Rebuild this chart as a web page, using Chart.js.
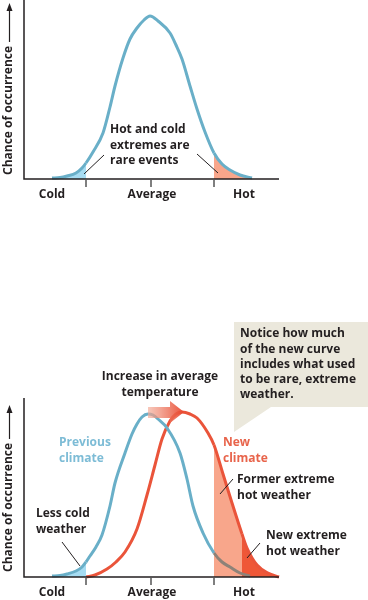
<!DOCTYPE html>
<html><head><meta charset="utf-8">
<script src="https://cdn.jsdelivr.net/npm/chart.js@4.4.0/dist/chart.umd.min.js"></script>
<style>
html,body{margin:0;padding:0;background:#fff;}
#wrap{position:relative;width:368px;height:600px;overflow:hidden;background:#fff;}
canvas{position:absolute;left:0;}
#c1{top:0;}
#c2{top:300px;}
</style></head><body>
<div id="wrap"><canvas id="c1" width="368" height="215"></canvas><canvas id="c2" width="368" height="300"></canvas></div>
<script>
// ---- data (temperature index on x, chance of occurrence on y) ----
const tickMarks = [62, 127, 190];          // Cold / Average / Hot boundaries
const tickLabels = ['Cold', 'Average', 'Hot'];
const tickLabelAt = [28, 128, 220];

const climateX = [28, 36, 43, 52, 58, 62, 69, 79, 86, 91, 99, 106, 113, 120, 126, 134, 146, 152, 158, 166, 173, 181, 190, 198, 206, 216, 228];
const climateY = [1, 1.5, 3, 6, 11, 16, 27, 46, 72, 93, 121, 140, 151, 159, 163, 158, 146, 134, 120, 93, 70, 47, 26, 15, 9, 4, 1];

const previousX = [28, 36, 43, 52, 58, 62, 66, 72, 78, 86, 91, 101, 108, 113, 118, 124, 129, 134, 143, 156, 163, 169, 179, 190, 198, 206, 216, 226];
const previousY = [1, 1.5, 3, 6, 10, 15, 21, 30, 42, 71, 94, 124, 143, 153, 160, 163, 162, 158, 149, 124, 98, 71, 44, 24, 15, 10, 4, 1];

const newX = [62, 71, 83, 92, 101, 113, 123, 131, 138, 146, 152, 158, 166, 173, 184, 190, 199, 208, 218, 223, 233, 244, 255];
const newY = [0, 2, 8, 15, 25, 48, 82, 112, 138, 156, 163, 165, 163, 159, 144, 132, 103, 74, 43, 29, 12, 4, 0];

const coldLimit = 62, hotLimit = 190, newExtremeLimit = 218;

// ---- styles ----
const FONT = 'bold 12px "Open Sans", sans-serif';
const TITLE_FONT = 'bold 12px "Open Sans", sans-serif';
const INK = '#231f20';
const BLUE = '#69afc8', LIGHTBLUE = '#a6dcf2', SALMON = '#f8a68b', RED = '#ea543a', DARKRED = '#ef5737', GREYLINE = '#8e8278';
const CLEAR = 'rgba(0,0,0,0)';

function pts(xs, ys) { return xs.map((x, i) => ({x, y: ys[i]})); }

function lines(ctx, arr, x, y, lh, color, align) {
  ctx.font = FONT; ctx.fillStyle = color || INK; ctx.textAlign = align || 'left'; ctx.textBaseline = 'middle';
  arr.forEach((t, i) => ctx.fillText(t, x, y + i * lh));
}
function seg(ctx, x1, y1, x2, y2) {
  ctx.strokeStyle = INK; ctx.lineWidth = 1; ctx.beginPath(); ctx.moveTo(x1, y1); ctx.lineTo(x2, y2); ctx.stroke();
}
function drawFrame(chart, yArrowTop, yTextStart) {
  const ctx = chart.ctx, a = chart.chartArea, xs = chart.scales.x;
  ctx.save();
  ctx.strokeStyle = INK; ctx.lineWidth = 1.5;
  ctx.beginPath(); ctx.moveTo(a.left, a.top - 2); ctx.lineTo(a.left, a.bottom); ctx.lineTo(a.right, a.bottom); ctx.stroke();
  ctx.strokeStyle = '#555'; ctx.lineWidth = 1.5;
  tickMarks.forEach(v => { const p = Math.round(xs.getPixelForValue(v)); ctx.beginPath(); ctx.moveTo(p, a.bottom); ctx.lineTo(p, a.bottom + 8); ctx.stroke(); });
  ctx.font = FONT; ctx.fillStyle = INK; ctx.textAlign = 'center'; ctx.textBaseline = 'middle';
  tickLabels.forEach((t, i) => ctx.fillText(t, xs.getPixelForValue(tickLabelAt[i]), a.bottom + 16));
  // y axis title with arrow
  ctx.save();
  ctx.font = TITLE_FONT;
  ctx.translate(9, yTextStart); ctx.rotate(-Math.PI / 2);
  ctx.textAlign = 'left'; ctx.textBaseline = 'middle';
  const w = ctx.measureText('Chance of occurrence').width;
  ctx.fillText('Chance of occurrence', 0, 0);
  ctx.restore();
  const lineStart = yTextStart - w - 4;
  ctx.strokeStyle = INK; ctx.lineWidth = 1.2;
  ctx.beginPath(); ctx.moveTo(9.5, lineStart); ctx.lineTo(9.5, yArrowTop + 6); ctx.stroke();
  ctx.fillStyle = INK; ctx.beginPath(); ctx.moveTo(9.5, yArrowTop); ctx.lineTo(6.5, yArrowTop + 8); ctx.lineTo(12.5, yArrowTop + 8); ctx.closePath(); ctx.fill();
  ctx.restore();
}

const baseOptions = (pad) => ({
  responsive: false, animation: false, devicePixelRatio: 1,
  layout: {padding: pad},
  scales: {
    x: {type: 'linear', min: 0, max: 255, display: false},
    y: {type: 'linear', min: 0, max: 177, display: false}
  },
  plugins: {legend: {display: false}, tooltip: {enabled: false}},
  elements: {point: {radius: 0}, line: {cubicInterpolationMode: 'monotone'}}
});

// ---- top chart ----
new Chart(document.getElementById('c1'), {
  type: 'line',
  data: {datasets: [{
    label: 'Climate',
    data: pts(climateX, climateY),
    borderColor: BLUE, borderWidth: 3, fill: 'origin', backgroundColor: CLEAR, clip: false,
    segment: {backgroundColor: c => c.p1.parsed.x <= coldLimit ? LIGHTBLUE : (c.p0.parsed.x >= hotLimit ? SALMON : CLEAR)}
  }]},
  options: baseOptions({left: 24, right: 89, top: 2, bottom: 36}),
  plugins: [{id: 'topDeco', afterDraw(chart) {
    const ctx = chart.ctx;
    drawFrame(chart, 3, 175);
    ctx.save();
    lines(ctx, ['Hot and cold', 'extremes are', 'rare events'], 110, 130, 15.5);
    seg(ctx, 84, 174, 104, 155);
    seg(ctx, 197, 154, 218, 173);
    ctx.restore();
  }}]
});

// ---- bottom chart ----
new Chart(document.getElementById('c2'), {
  type: 'line',
  data: {datasets: [
    {
      label: 'Previous climate',
      data: pts(previousX, previousY),
      borderColor: BLUE, borderWidth: 3, fill: 'origin', backgroundColor: CLEAR, clip: false,
      segment: {
        backgroundColor: c => c.p1.parsed.x <= coldLimit ? LIGHTBLUE : CLEAR,
        borderColor: c => c.p0.parsed.x >= hotLimit ? GREYLINE : BLUE
      }
    },
    {
      label: 'New climate',
      data: pts(newX, newY),
      borderColor: RED, borderWidth: 3, fill: 'origin', backgroundColor: CLEAR, clip: false,
      segment: {backgroundColor: c => c.p0.parsed.x >= newExtremeLimit ? DARKRED : (c.p0.parsed.x >= hotLimit ? SALMON : CLEAR)}
    }
  ]},
  options: baseOptions({left: 24, right: 89, top: 100, bottom: 23}),
  plugins: [{id: 'botDeco', afterDraw(chart) {
    const ctx = chart.ctx;
    drawFrame(chart, 105, 272);
    ctx.save();
    ctx.translate(0, -300);
    // callout
    ctx.fillStyle = '#ebe8dc';
    ctx.beginPath(); ctx.moveTo(234, 322); ctx.lineTo(368, 322); ctx.lineTo(368, 407); ctx.lineTo(271, 407); ctx.lineTo(234, 432); ctx.closePath(); ctx.fill();
    lines(ctx, ['Notice how much', 'of the new curve', 'includes what used', 'to be rare, extreme', 'weather.'], 240, 334, 15.2);
    // arrow
    const g = ctx.createLinearGradient(148, 0, 184, 0);
    g.addColorStop(0, 'rgba(243,170,150,0.65)'); g.addColorStop(1, 'rgba(232,70,45,0.95)');
    ctx.fillStyle = g;
    ctx.beginPath(); ctx.moveTo(148, 407); ctx.lineTo(170, 407); ctx.lineTo(170, 401); ctx.lineTo(184, 412); ctx.lineTo(170, 423); ctx.lineTo(170, 418); ctx.lineTo(148, 418); ctx.closePath(); ctx.fill();
    lines(ctx, ['Increase in average', 'temperature'], 160, 377, 15.5, INK, 'center');
    lines(ctx, ['Previous', 'climate'], 59, 443, 15.5, '#7dbcd6');
    lines(ctx, ['New', 'climate'], 223, 443, 15.5, '#e8644b');
    lines(ctx, ['Former extreme', 'hot weather'], 237, 480, 15.5);
    seg(ctx, 220, 494, 233, 479);
    lines(ctx, ['New extreme', 'hot weather'], 266, 536, 15.5);
    seg(ctx, 247, 558, 260, 543);
    lines(ctx, ['Less cold', 'weather'], 36, 514, 15.5);
    seg(ctx, 62, 542, 80, 566);
    ctx.restore();
  }}]
});
</script>
</body></html>
